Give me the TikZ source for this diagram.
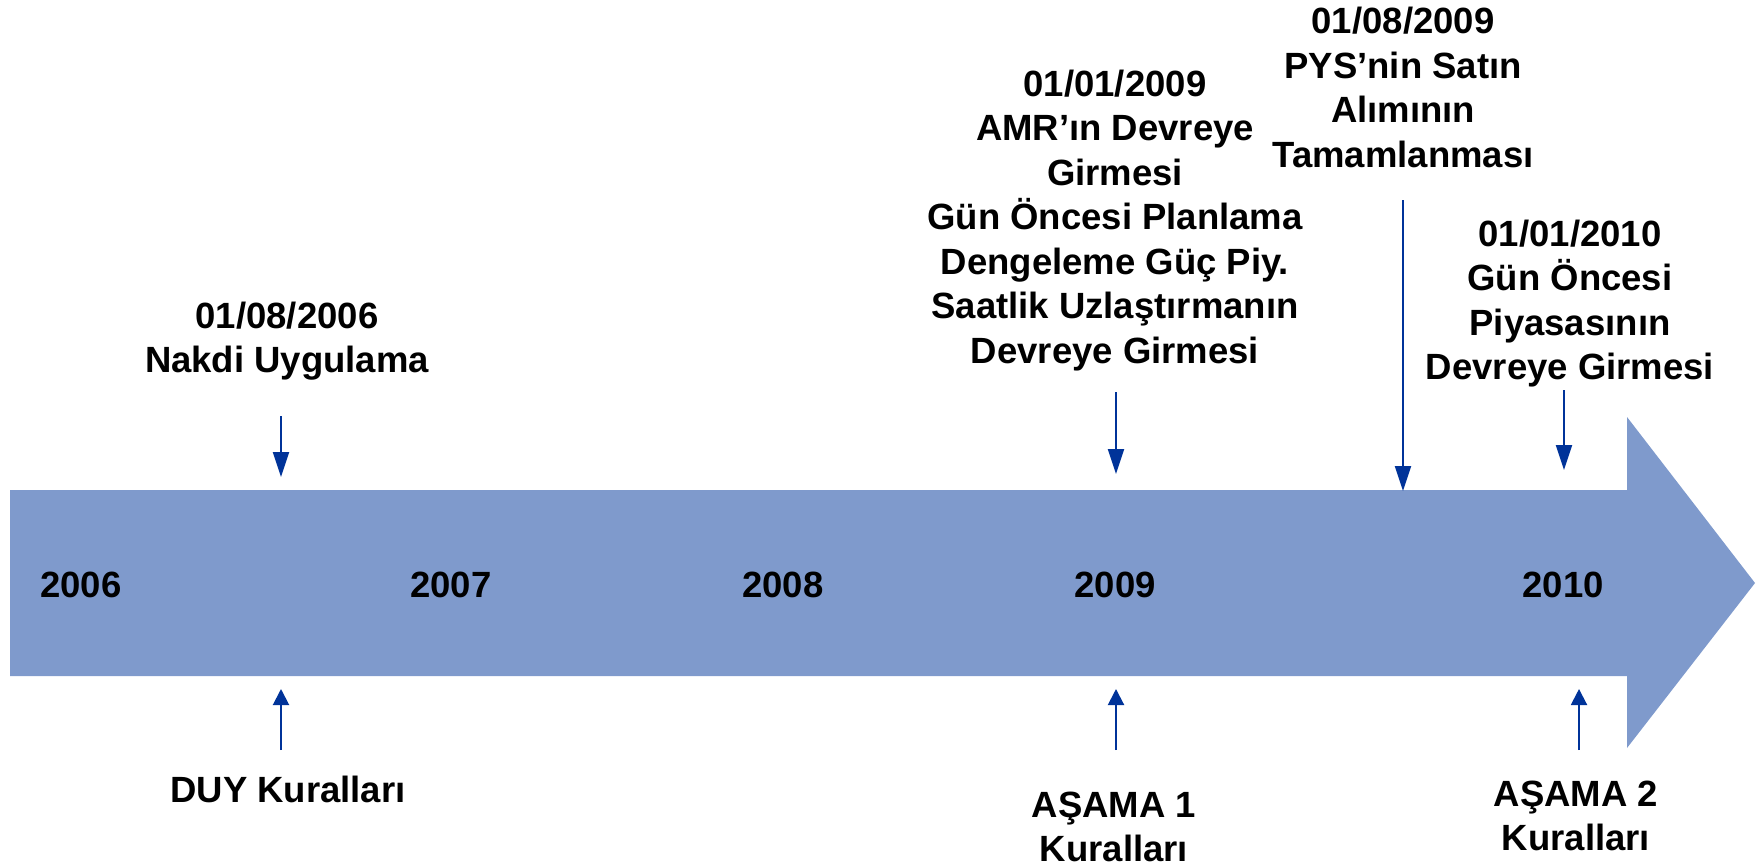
\documentclass[tikz,border=0pt]{standalone}
\usepackage{fontspec}
\setmainfont{Liberation Sans}
\usetikzlibrary{arrows.meta}
\definecolor{bodyblue}{RGB}{127,154,204}
\definecolor{arrblue}{RGB}{0,51,153}
\newcommand{\stk}[1]{\vtop{\baselineskip=44.5pt\lineskiplimit=-1000pt\lineskip=0pt\halign{\hfil##\hfil\cr#1\crcr}}}
\tikzset{
  lbl/.style={anchor=base, inner sep=0pt, font=\fontsize{36.5}{44.5}\selectfont\bfseries, text=black},
  downarr/.style={draw=arrblue, line width=2pt, -{Triangle[length=25pt,width=16pt]}},
  uparr/.style={draw=arrblue, line width=2pt, -{Triangle[length=16pt,width=16pt]}}
}
\begin{document}
\begin{tikzpicture}[x=1pt,y=-1pt]
\useasboundingbox (0,0) rectangle (1764,867);
% big timeline arrow
\fill[bodyblue] (10,490) -- (1627,490) -- (1627,417) -- (1755,583) -- (1627,748) -- (1627,676) -- (10,676) -- cycle;
% years
\node[lbl] (y06) at (81,597) {2006};
\node[lbl] (y07) at (451,597) {2007};
\node[lbl] (y08) at (783,597) {2008};
\node[lbl] (y09) at (1115,597) {2009};
\node[lbl] (y10) at (1563,597) {2010};
% top labels
\node[lbl] (t06) at (287,328) {\stk{01/08/2006\cr Nakdi Uygulama}};
\node[lbl] (t09) at (1115,96) {\stk{01/01/2009\cr AMR’ın Devreye\cr Girmesi\cr Gün Öncesi Planlama\cr Dengeleme Güç Piy.\cr Saatlik Uzlaştırmanın\cr Devreye Girmesi}};
\node[lbl] (tpys) at (1403,34) {\stk{01/08/2009\cr PYS’nin Satın\cr Alımının\cr Tamamlanması}};
\node[lbl] (t10) at (1570,246) {\stk{01/01/2010\cr Gün Öncesi\cr Piyasasının\cr Devreye Girmesi}};
% bottom labels
\node[lbl] (b06) at (288,802) {DUY Kuralları};
\node[lbl] (b09) at (1114,817) {\stk{AŞAMA 1\cr Kuralları}};
\node[lbl] (b10) at (1576,806) {\stk{AŞAMA 2\cr Kuralları}};
% arrow end points
\coordinate (d06s) at (281,416); \coordinate (d06e) at (281,477);
\coordinate (d09s) at (1116,392); \coordinate (d09e) at (1116,474);
\coordinate (dpyss) at (1403,200); \coordinate (dpyse) at (1403,491);
\coordinate (d10s) at (1564,390); \coordinate (d10e) at (1564,470);
\coordinate (u06s) at (281,750); \coordinate (u06e) at (281,689);
\coordinate (u09s) at (1116,750); \coordinate (u09e) at (1116,689);
\coordinate (u10s) at (1579,750); \coordinate (u10e) at (1579,689);
\draw[downarr] (d06s) -- (d06e);
\draw[downarr] (d09s) -- (d09e);
\draw[downarr] (dpyss) -- (dpyse);
\draw[downarr] (d10s) -- (d10e);
\draw[uparr] (u06s) -- (u06e);
\draw[uparr] (u09s) -- (u09e);
\draw[uparr] (u10s) -- (u10e);
\end{tikzpicture}
\end{document}
